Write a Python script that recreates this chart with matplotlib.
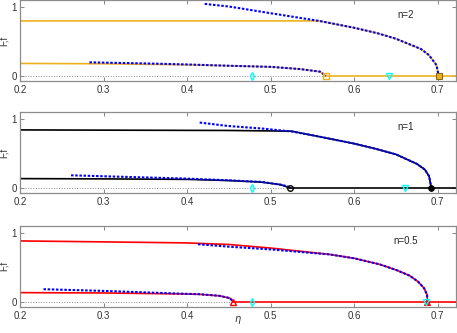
#!/usr/bin/env python3

"""
F,f vs eta for n=2, n=1, n=0.5
"""

import numpy as np
import matplotlib
matplotlib.use("Agg")
import matplotlib.pyplot as plt

plt.rcParams['font.family'] = ['Liberation Sans', 'DejaVu Sans']

# n=2 (orange)
N2_BLUE_UP_X = [0.421, 0.45, 0.5, 0.558, 0.6, 0.628, 0.65, 0.68, 0.6896, 0.6985, 0.7012]
N2_BLUE_UP_Y = [1.048, 1.01, 0.912, 0.80, 0.70, 0.62, 0.54, 0.39, 0.30, 0.156, 0.0]
N2_BLUE_LO_X = [0.283, 0.35, 0.4, 0.45, 0.5, 0.535, 0.559, 0.566]
N2_BLUE_LO_Y = [0.196, 0.18, 0.165, 0.146, 0.13, 0.098, 0.06, 0.0]
N2_LINE_UP_X = [0.2, 0.558, 0.6, 0.628, 0.65, 0.68, 0.6896, 0.6985, 0.7012]
N2_LINE_UP_Y = [0.80, 0.80, 0.70, 0.62, 0.54, 0.39, 0.30, 0.156, 0.0]
N2_LINE_LO_X = [0.2, 0.3, 0.4, 0.45, 0.5, 0.535, 0.559, 0.566]
N2_LINE_LO_Y = [0.18, 0.175, 0.16, 0.146, 0.13, 0.098, 0.06, 0.0]
N2_OPEN = 0.566
N2_FILL = 0.7012
N2_TRI = 0.642

# n=1 (black)
N1_BLUE_UP_X = [0.415, 0.449, 0.489, 0.525, 0.55, 0.575, 0.6, 0.625, 0.65, 0.675, 0.6845, 0.6897, 0.6924]
N1_BLUE_UP_Y = [0.95, 0.90, 0.864, 0.82, 0.765, 0.705, 0.644, 0.571, 0.488, 0.35, 0.268, 0.17, 0.0]
N1_BLUE_LO_X = [0.261, 0.3, 0.4, 0.449, 0.489, 0.512, 0.52, 0.523]
N1_BLUE_LO_Y = [0.184, 0.17, 0.136, 0.112, 0.088, 0.048, 0.025, 0.0]
N1_LINE_UP_X = [0.2, 0.45, 0.525, 0.55, 0.575, 0.6, 0.625, 0.65, 0.675, 0.6845, 0.6897, 0.6924]
N1_LINE_UP_Y = [0.843, 0.835, 0.825, 0.765, 0.705, 0.644, 0.571, 0.488, 0.35, 0.268, 0.17, 0.0]
N1_LINE_LO_X = [0.2, 0.3, 0.4, 0.449, 0.489, 0.512, 0.523]
N1_LINE_LO_Y = [0.136, 0.132, 0.125, 0.108, 0.085, 0.048, 0.0]
N1_OPEN = 0.523
N1_FILL = 0.6924
N1_TRI = 0.661

# n=0.5 (red)
N05_BLUE_UP_X = [0.413, 0.45, 0.5, 0.5708, 0.6007, 0.6306, 0.6506, 0.6665, 0.6765, 0.6837, 0.6873, 0.6877]
N05_BLUE_UP_Y = [0.836, 0.80, 0.76, 0.687, 0.629, 0.542, 0.459, 0.377, 0.29, 0.194, 0.097, 0.0]
N05_BLUE_LO_X = [0.228, 0.3, 0.4, 0.415, 0.439, 0.451, 0.455]
N05_BLUE_LO_Y = [0.18, 0.155, 0.112, 0.107, 0.083, 0.05, 0.0]
N05_LINE_UP_X = [0.2, 0.3, 0.4, 0.45, 0.5, 0.5708, 0.6007, 0.6306, 0.6506, 0.6665, 0.6765, 0.6837, 0.6873, 0.6877]
N05_LINE_UP_Y = [0.884, 0.87, 0.855, 0.832, 0.78, 0.687, 0.629, 0.542, 0.459, 0.377, 0.29, 0.194, 0.097, 0.0]
N05_LINE_LO_X = [0.2, 0.3, 0.4, 0.415, 0.439, 0.451, 0.455]
N05_LINE_LO_Y = [0.13, 0.125, 0.11, 0.105, 0.083, 0.05, 0.0]
N05_OPEN = 0.455
N05_FILL = 0.6877
N05_TRI = 0.686

DIAMOND = 0.478
XMAX = 0.722

panels = [
    ("n=2", "#EDB120", "s", N2_BLUE_UP_X, N2_BLUE_UP_Y, N2_BLUE_LO_X, N2_BLUE_LO_Y,
     N2_LINE_UP_X, N2_LINE_UP_Y, N2_LINE_LO_X, N2_LINE_LO_Y, N2_OPEN, N2_FILL, N2_TRI),
    ("n=1", "black", "o", N1_BLUE_UP_X, N1_BLUE_UP_Y, N1_BLUE_LO_X, N1_BLUE_LO_Y,
     N1_LINE_UP_X, N1_LINE_UP_Y, N1_LINE_LO_X, N1_LINE_LO_Y, N1_OPEN, N1_FILL, N1_TRI),
    ("n=0.5", "red", "^", N05_BLUE_UP_X, N05_BLUE_UP_Y, N05_BLUE_LO_X, N05_BLUE_LO_Y,
     N05_LINE_UP_X, N05_LINE_UP_Y, N05_LINE_LO_X, N05_LINE_LO_Y, N05_OPEN, N05_FILL, N05_TRI),
]

# axes boxes in figure fractions [left, bottom, width, height]
boxes = [[0.044, 0.757, 0.954, 0.242],
         [0.044, 0.42, 0.954, 0.243],
         [0.044, 0.079, 0.954, 0.242]]

fig = plt.figure(figsize=(4.57, 3.33), dpi=100)

for box, p in zip(boxes, panels):
    (name, col, mk, bux, buy, blx, bly, lux, luy, llx, lly, xo, xf, xt) = p
    ax = fig.add_axes(box)

    # dotted zero line up to where the solid branch starts
    ax.plot([0.2, xo], [0, 0], ls=':', color='0.55', lw=0.7)
    ax.plot([xo, XMAX], [0, 0], color=col, lw=1.2)

    ax.plot(lux, luy, color=col, lw=1.2)
    ax.plot(llx, lly, color=col, lw=1.2)

    for xs, ys in [(bux, buy), (blx, bly)]:
        ax.plot(xs, ys, color='blue', lw=1.5, ls=(0, (1.2, 0.8)), dash_capstyle='butt')

    ax.plot([xo], [0], marker=mk, ms=4, mfc='none', mec=col, mew=1, ls='none')
    ax.plot([xf], [0], marker=mk, ms=4, mfc=col, mec=col if col != "#EDB120" else '#8a6a10',
            mew=0.8, ls='none')
    ax.plot([DIAMOND], [0], marker='d', ms=4, mfc='none', mec='cyan', mew=1, ls='none')
    ax.plot([xt], [0], marker='v', ms=4, mfc='none', mec='cyan', mew=1, ls='none')

    ax.text(0.885, 0.815, name, transform=ax.transAxes, fontsize=7, color='0.15',
            ha='center', va='center')

    ax.set_xlim(0.2, XMAX)
    ax.set_ylim(-0.075, 1.1)
    ax.set_xticks([0.2, 0.3, 0.4, 0.5, 0.6, 0.7])
    ax.set_xticklabels(["0.2", "0.3", "0.4", "0.5", "0.6", "0.7"])
    ax.set_yticks([0, 1])
    ax.tick_params(direction='in', top=True, right=True, length=3, width=0.6,
                   color='0.45', labelsize=7, labelcolor='0.2', pad=3)
    ax.tick_params(axis='y', pad=2.5)
    for s in ax.spines.values():
        s.set_color('0.55')
        s.set_linewidth(0.9)
    ax.set_ylabel("F,f", fontsize=7, color='0.2')
    ax.yaxis.set_label_coords(-0.026, 0.5)

fig.text(238 / 457, 1 - 320 / 333, r"$\eta$", fontsize=7, color='0.2',
         ha='center', va='center')

fig.savefig("out.png", dpi=100)
